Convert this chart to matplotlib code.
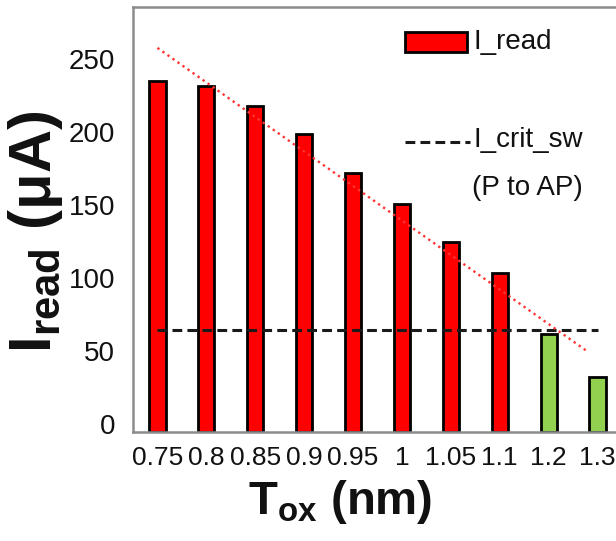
import matplotlib
matplotlib.use("Agg")
import matplotlib.pyplot as plt
import matplotlib.transforms as mtransforms
from matplotlib.patches import Rectangle
from matplotlib.lines import Line2D

plt.rcParams['font.family'] = ['Liberation Sans', 'DejaVu Sans']
plt.rcParams['mathtext.fontset'] = 'custom'
plt.rcParams['mathtext.rm'] = 'Liberation Sans:bold'
plt.rcParams['mathtext.bf'] = 'Liberation Sans:bold'
plt.rcParams['mathtext.it'] = 'Liberation Sans:bold'

# Data
tox_labels = ['0.75', '0.8', '0.85', '0.9', '0.95', '1', '1.05', '1.1', '1.2', '1.3']
i_read = [240, 237, 223, 204, 177, 156, 130, 109, 67, 38]
i_crit_sw = 70
trend_x = [0, 8.8]
trend_y = [263, 55]

RED = '#FF0000'
GREEN = '#92D050'
SPINE = '#8C8C8C'
TXT = '#111111'
DASH = (0, (3.2, 1.7))

fig = plt.figure(figsize=(6.16, 5.41), dpi=100)
ax = fig.add_axes([133/616, (541-432)/541, (622-133)/616, (432-7)/541])

x = list(range(len(tox_labels)))
colors = [GREEN if v < i_crit_sw else RED for v in i_read]
ax.bar(x, i_read, width=0.33, color=colors, edgecolor='black', linewidth=2, zorder=2)

ax.plot([x[0], x[-1]], [i_crit_sw, i_crit_sw], color='#1a1a1a', lw=2.2,
        linestyle=DASH, zorder=3)
ax.plot(trend_x, trend_y, color='#FF3535', lw=1.7, linestyle=(0, (1, 1.6)), zorder=3)

ax.set_xlim(-0.5, 9.5)
ax.set_ylim(0, 291)
ax.set_xticks(x)
ax.set_xticklabels(tox_labels)
ax.set_yticks([0, 50, 100, 150, 200, 250])
ax.tick_params(axis='both', length=0, colors=TXT)
ax.tick_params(axis='y', pad=13, labelsize=20)
ax.tick_params(axis='x', pad=10, labelsize=19)
for s in ['left', 'bottom', 'top', 'right']:
    ax.spines[s].set_color(SPINE)
    ax.spines[s].set_linewidth(1.8)

off = mtransforms.ScaledTranslation(0, 8/100, fig.dpi_scale_trans)
for lab in ax.get_yticklabels():
    lab.set_transform(lab.get_transform() + off)

ax.set_xlabel(r'$\mathbf{T_{ox}}$ (nm)', fontsize=34, fontweight='bold', color=TXT)
ax.xaxis.set_label_coords((340-133)/489, -(502-432)/425, transform=ax.transAxes)
ax.xaxis.label.set_va('center')
ax.set_ylabel(r'$\mathbf{I_{read}}$ (μA)', fontsize=43, fontweight='bold', color=TXT)
ax.yaxis.set_label_coords(-(133-35)/489, (432-232)/425, transform=ax.transAxes)
ax.yaxis.label.set_va('center')

# Legend (manual)
def px(xp, yp):
    return (xp/616, (541-yp)/541)

fig.patches.append(Rectangle(px(405, 52), 62/616, 20/541, transform=fig.transFigure,
                             facecolor=RED, edgecolor='black', linewidth=2, zorder=5))
fig.text(*px(474, 42), 'I_read', fontsize=20, va='center', ha='left', color=TXT)
fig.lines.append(Line2D([405/616, 470/616], [(541-142)/541]*2, transform=fig.transFigure,
                        color='#1a1a1a', lw=2.2, linestyle=DASH))
fig.text(*px(474, 140), 'I_crit_sw', fontsize=20, va='center', ha='left', color=TXT)
fig.text(*px(472, 188), '(P to AP)', fontsize=20, va='center', ha='left', color=TXT)

fig.savefig('out.png', dpi=100)
